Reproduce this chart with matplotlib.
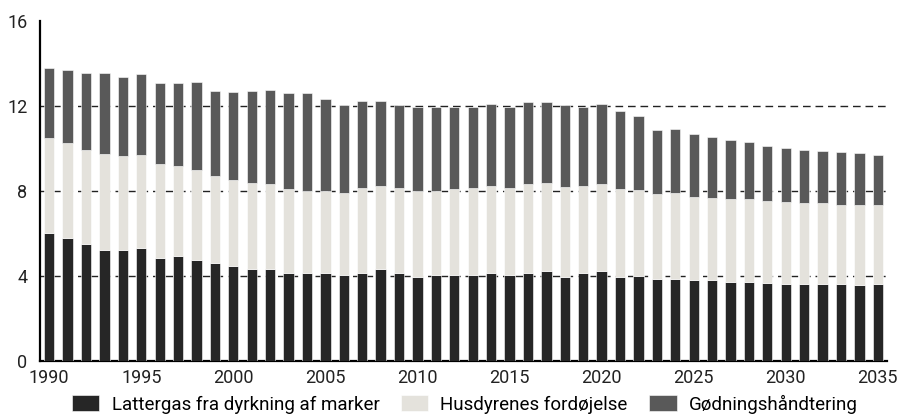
import matplotlib.pyplot as plt
import numpy as np

plt.rcParams['font.family'] = ['Roboto', 'DejaVu Sans']

years = list(range(1990, 2036))

# Udledning fordelt på kilder (mio. ton CO2-ækv.)
lattergas = [6.04, 5.81, 5.49, 5.24, 5.24, 5.32, 4.84, 4.96, 4.77, 4.59,
             4.49, 4.31, 4.31, 4.14, 4.14, 4.13, 4.07, 4.16, 4.31, 4.16,
             3.96, 4.07, 4.07, 4.07, 4.12, 4.07, 4.16, 4.23, 3.96, 4.12,
             4.23, 3.93, 3.99, 3.86, 3.86, 3.80, 3.80, 3.74, 3.74, 3.69,
             3.63, 3.63, 3.63, 3.63, 3.57, 3.63]
fordoejelse = [4.44, 4.44, 4.45, 4.51, 4.40, 4.38, 4.44, 4.21, 4.23, 4.10,
               4.02, 4.08, 4.01, 3.95, 3.84, 3.85, 3.83, 3.99, 3.94, 3.99,
               4.05, 3.94, 4.01, 4.08, 4.13, 4.08, 4.16, 4.16, 4.24, 4.13,
               4.09, 4.16, 4.04, 3.98, 4.04, 3.93, 3.87, 3.87, 3.87, 3.85,
               3.85, 3.79, 3.79, 3.73, 3.79, 3.73]
goedning = [3.31, 3.43, 3.61, 3.80, 3.74, 3.81, 3.79, 3.90, 4.13, 4.02,
            4.13, 4.32, 4.45, 4.51, 4.62, 4.37, 4.15, 4.07, 3.97, 3.90,
            3.96, 3.96, 3.89, 3.82, 3.86, 3.82, 3.85, 3.78, 3.85, 3.69,
            3.79, 3.66, 3.49, 3.01, 3.02, 2.94, 2.88, 2.81, 2.70, 2.58,
            2.54, 2.52, 2.47, 2.47, 2.41, 2.34]

labels = ['Lattergas fra dyrkning af marker', 'Husdyrenes fordøjelse',
          'Gødningshåndtering']
colors = ['#262626', '#e4e2dc', '#595959']

fig = plt.figure(figsize=(9.01, 4.15), dpi=100)
ax = fig.add_axes([40 / 901, 54 / 415, 847 / 901, 340 / 415])

bottom = np.zeros(len(years))
for values, label, color in zip([lattergas, fordoejelse, goedning], labels, colors):
    ax.bar(years, values, width=0.56, bottom=bottom, color=color,
           edgecolor='white', linewidth=0.4, label=label, zorder=3)
    bottom += np.array(values)

ax.set_xlim(1989.5, 2035.5)
ax.set_ylim(0, 16)
ax.set_yticks([0, 4, 8, 12, 16])
ax.set_xticks(range(1990, 2036, 5))

for y in [4, 8, 12]:
    ax.axhline(y, color='#222222', linewidth=1.0, linestyle=(0, (5.5, 3.5)), zorder=1)

for side in ['top', 'right']:
    ax.spines[side].set_visible(False)
for side in ['left', 'bottom']:
    ax.spines[side].set_linewidth(1.6)
    ax.spines[side].set_color('black')

ax.tick_params(axis='y', length=0, pad=9, labelsize=13, colors='#222222')
ax.tick_params(axis='x', length=0, pad=6, labelsize=13, colors='#222222')

fig.legend(loc='center', bbox_to_anchor=(465 / 901, 1 - 404 / 415), ncol=3,
           frameon=False, fontsize=13.5, handlelength=1.45, handleheight=0.9,
           handletextpad=0.65, columnspacing=1.15, borderpad=0, borderaxespad=0)

fig.savefig('out.png', dpi=100)
